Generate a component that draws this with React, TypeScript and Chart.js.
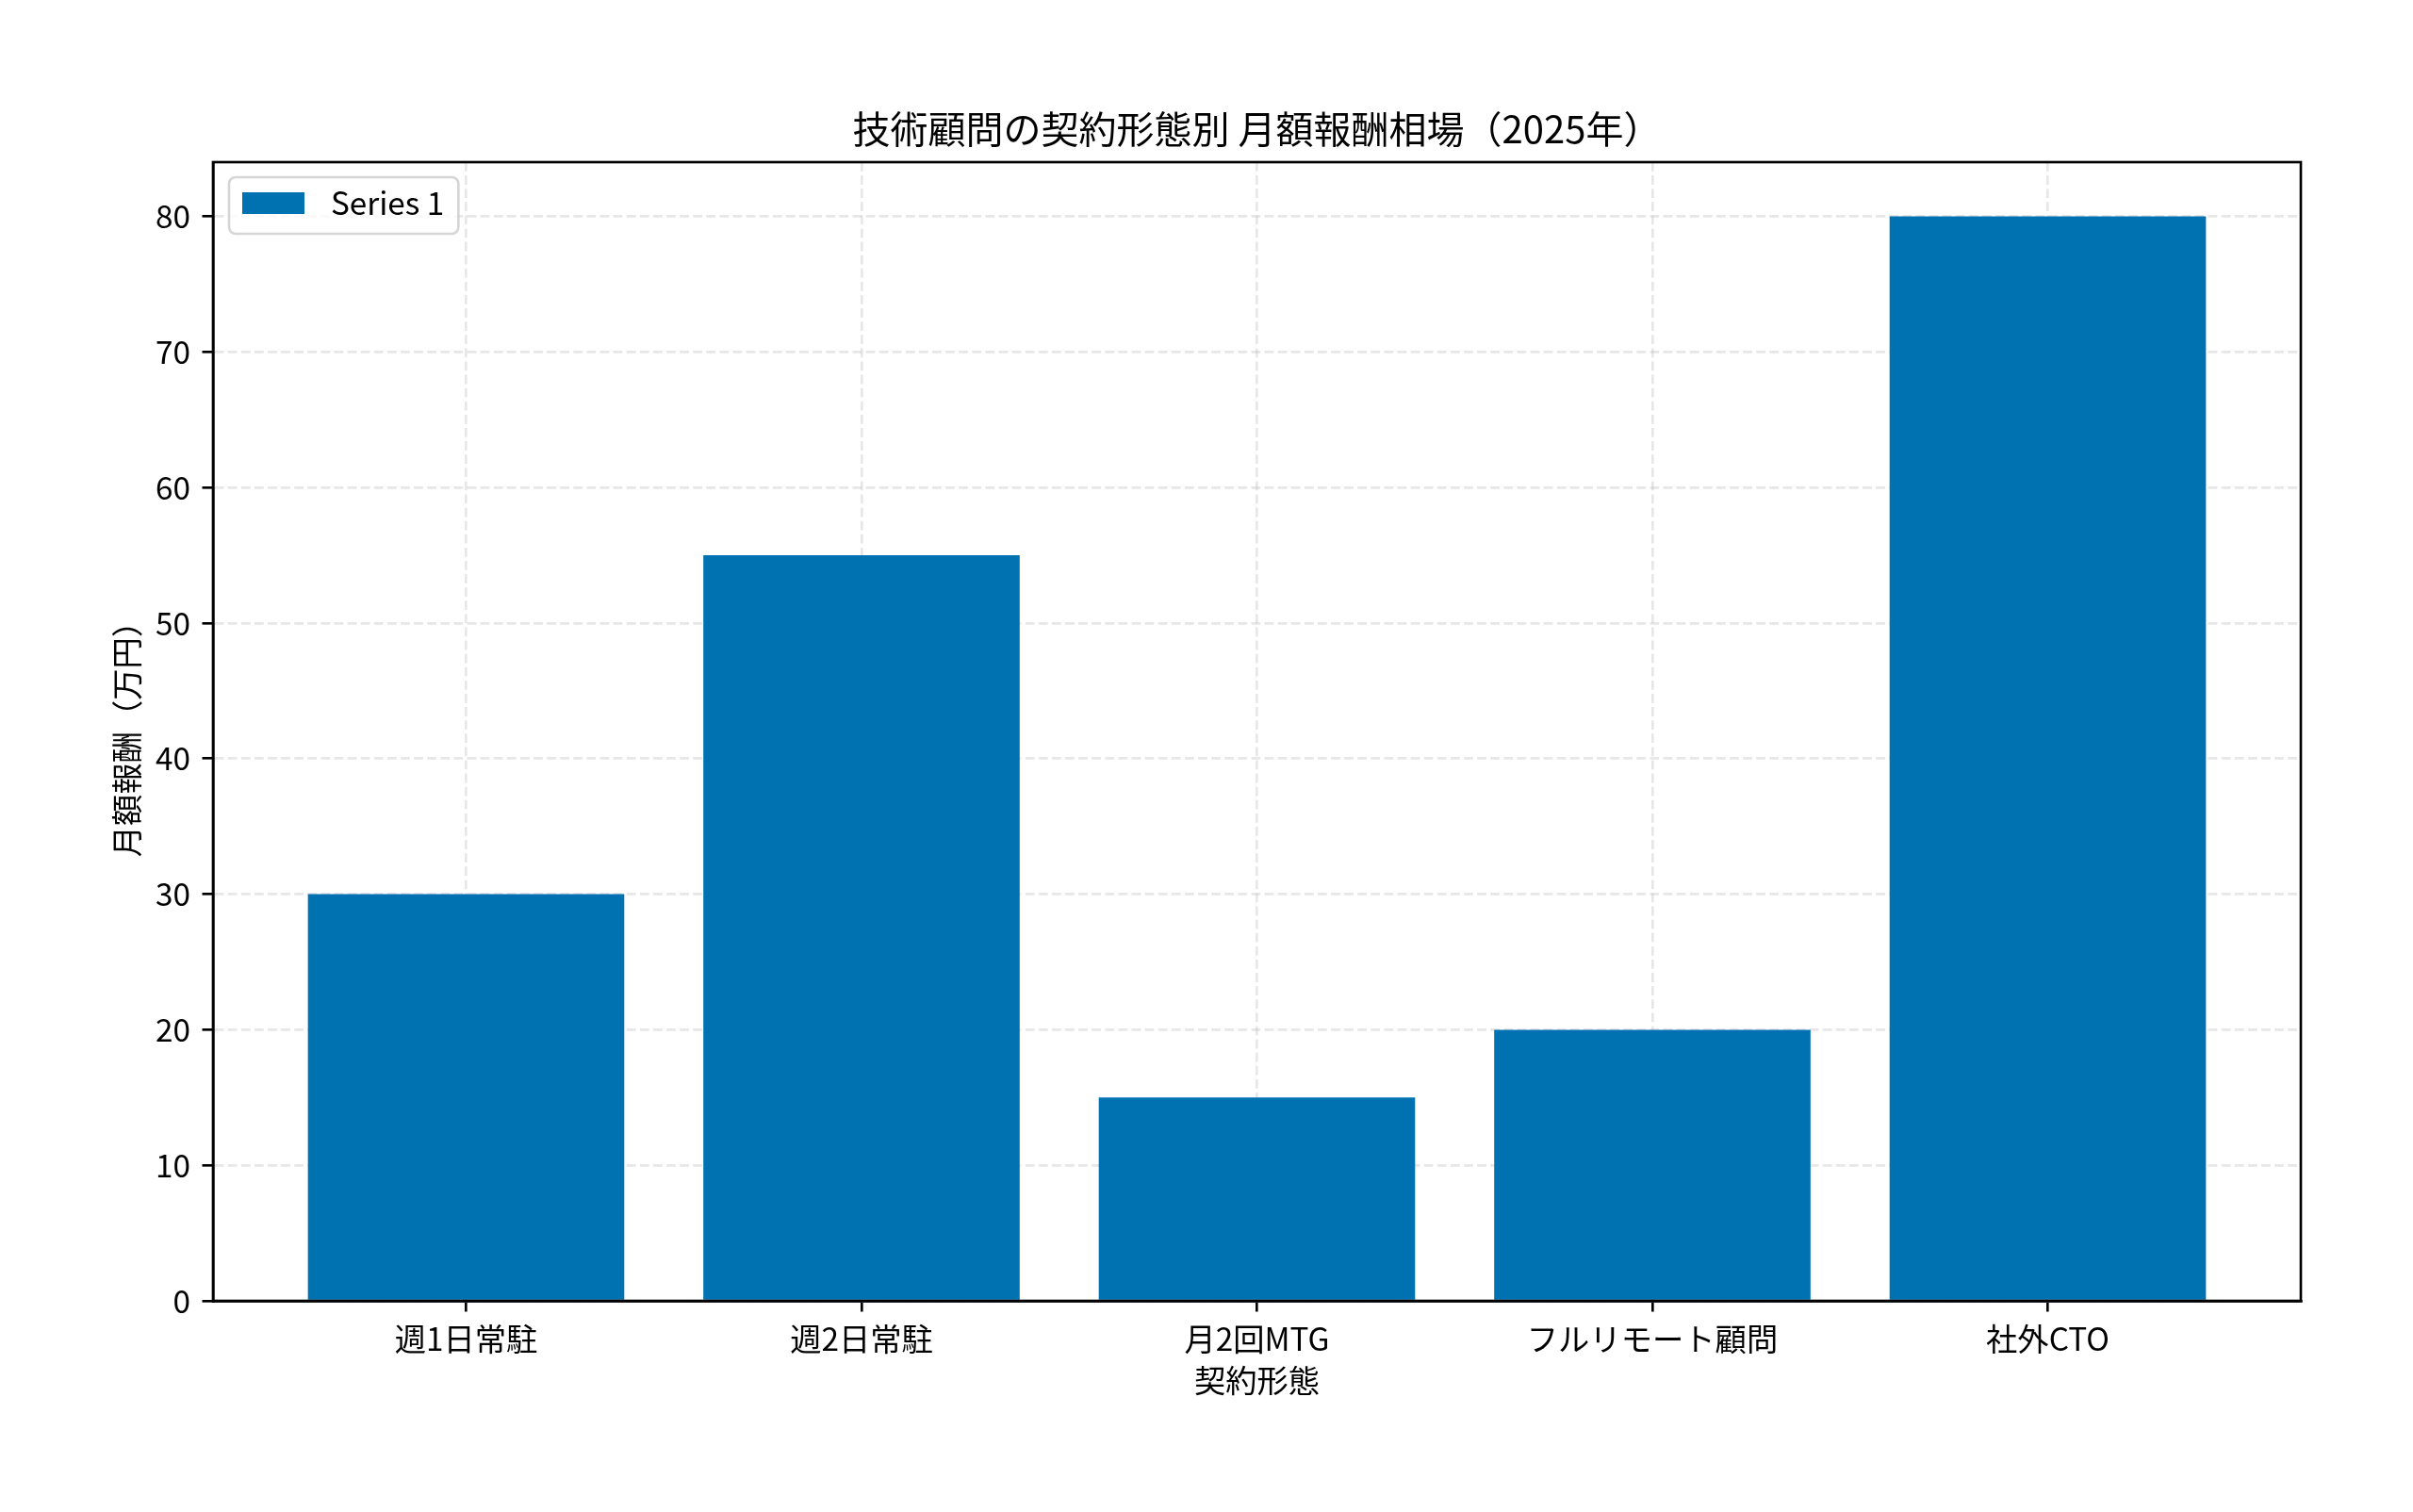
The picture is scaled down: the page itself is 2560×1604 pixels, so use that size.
import React, { useEffect, useRef } from 'react';
import { Chart, registerables } from 'chart.js';

Chart.register(...registerables);

const TITLE = '技術顧問の契約形態別 月額報酬相場（2025年）';
const X_TITLE = '契約形態';
const Y_TITLE = '月額報酬（万円）';
const categories = ['週1日常駐', '週2日常駐', '月2回MTG', 'フルリモート顧問', '社外CTO'];
const seriesLabel = 'Series 1';
const values = [30, 55, 15, 20, 80];
const yTicks = [0, 10, 20, 30, 40, 50, 60, 70, 80];
const Y_MAX = 84;

const FONT = "'Noto Sans CJK JP', 'Noto Sans', sans-serif";
const BAR_COLOR = '#0072B2';
const GRID_COLOR = 'rgba(176,176,176,0.3)';
const LW = 2.65;
const FS = 33.3;
const TITLE_FS = 40;

const frameAndLegend = {
  id: 'frameAndLegend',
  afterDraw(chart: any) {
    const { ctx, chartArea } = chart;
    ctx.save();
    // axes frame
    ctx.lineWidth = LW;
    ctx.strokeStyle = '#000';
    ctx.strokeRect(chartArea.left, chartArea.top, chartArea.right - chartArea.left, chartArea.bottom - chartArea.top);

    // legend inside upper-left
    const ds = chart.data.datasets[0];
    ctx.font = `${FS}px ${FONT}`;
    const textW = ctx.measureText(ds.label).width;
    const x = chartArea.left + 17;
    const y = chartArea.top + 16;
    const w = 14 + 66 + 28 + textW + 15;
    const h = 60;
    const r = 7;
    ctx.beginPath();
    ctx.moveTo(x + r, y);
    ctx.lineTo(x + w - r, y);
    ctx.arcTo(x + w, y, x + w, y + r, r);
    ctx.lineTo(x + w, y + h - r);
    ctx.arcTo(x + w, y + h, x + w - r, y + h, r);
    ctx.lineTo(x + r, y + h);
    ctx.arcTo(x, y + h, x, y + h - r, r);
    ctx.lineTo(x, y + r);
    ctx.arcTo(x, y, x + r, y, r);
    ctx.closePath();
    ctx.fillStyle = 'rgba(255,255,255,0.8)';
    ctx.fill();
    ctx.lineWidth = LW;
    ctx.strokeStyle = 'rgba(204,204,204,0.8)';
    ctx.stroke();
    ctx.fillStyle = ds.backgroundColor;
    ctx.fillRect(x + 14, y + 16, 66, 23);
    ctx.fillStyle = '#000';
    ctx.textAlign = 'left';
    ctx.textBaseline = 'alphabetic';
    ctx.fillText(ds.label, x + 14 + 66 + 28, y + 40);
    ctx.restore();
  },
};

export default function App() {
  const ref = useRef<HTMLCanvasElement>(null);

  useEffect(() => {
    document.body.style.margin = '0';
    const canvas = ref.current;
    if (!canvas) return;
    Chart.defaults.font.family = FONT;
    Chart.defaults.color = '#000';

    const chart = new Chart(canvas, {
      type: 'bar',
      data: {
        datasets: [
          {
            label: seriesLabel,
            data: categories.map((_, i) => ({ x: i, y: values[i] })),
            backgroundColor: BAR_COLOR,
            borderWidth: 0,
            barPercentage: 0.8,
            categoryPercentage: 1,
          },
        ],
      },
      options: {
        animation: false,
        responsive: false,
        devicePixelRatio: 1,
        layout: { padding: { left: 80, right: 119, top: 80, bottom: 60 } },
        plugins: {
          legend: { display: false },
          tooltip: { enabled: false },
          title: {
            display: true,
            text: TITLE,
            fullSize: false,
            color: '#000',
            font: { size: TITLE_FS, weight: 'normal', family: FONT, lineHeight: 1.2 },
            padding: { top: 32.5, bottom: 11.5 },
          },
        },
        scales: {
          x: {
            type: 'linear',
            min: -0.64,
            max: 4.64,
            offset: false,
            z: 1,
            afterFit: (s: any) => {
              s.height = 164;
            },
            afterBuildTicks: (s: any) => {
              s.ticks = categories.map((_, i) => ({ value: i }));
            },
            ticks: {
              stepSize: 1,
              includeBounds: false,
              autoSkip: false,
              maxRotation: 0,
              padding: 9,
              color: '#000',
              font: { size: FS, family: FONT },
              callback: (v: any) => categories[Math.round(Number(v))] ?? '',
            },
            grid: {
              display: true,
              offset: false,
              color: GRID_COLOR,
              lineWidth: LW,
              drawTicks: true,
              tickLength: 11.5,
              tickColor: '#000',
              tickWidth: LW,
              tickBorderDash: [],
            },
            border: { display: true, color: '#000', width: LW, dash: [9.8, 4.3] },
            title: {
              display: true,
              text: X_TITLE,
              color: '#000',
              font: { size: FS, family: FONT, lineHeight: 1.2 },
              padding: { top: 0, bottom: 60 },
            },
          },
          y: {
            type: 'linear',
            min: 0,
            max: Y_MAX,
            z: 1,
            afterFit: (s: any) => {
              s.width = 146;
            },
            afterBuildTicks: (s: any) => {
              s.ticks = yTicks.map((v) => ({ value: v }));
            },
            ticks: {
              stepSize: 10,
              includeBounds: false,
              padding: 12.5,
              color: '#000',
              font: { size: FS, family: FONT },
            },
            grid: {
              display: true,
              color: GRID_COLOR,
              lineWidth: LW,
              drawTicks: true,
              tickLength: 11.5,
              tickColor: '#000',
              tickWidth: LW,
              tickBorderDash: [],
            },
            border: { display: true, color: '#000', width: LW, dash: [9.8, 4.3] },
            title: {
              display: true,
              text: Y_TITLE,
              color: '#000',
              font: { size: FS, family: FONT, lineHeight: 1.2 },
              padding: { top: 34, bottom: 0 },
            },
          },
        },
      } as any,
      plugins: [frameAndLegend],
    });

    return () => chart.destroy();
  }, []);

  return (
    <div style={{ position: 'absolute', left: 0, top: 0, width: 2560, height: 1604, background: '#fff' }}>
      <canvas ref={ref} width={2560} height={1604} style={{ width: 2560, height: 1604, display: 'block' }} />
    </div>
  );
}
